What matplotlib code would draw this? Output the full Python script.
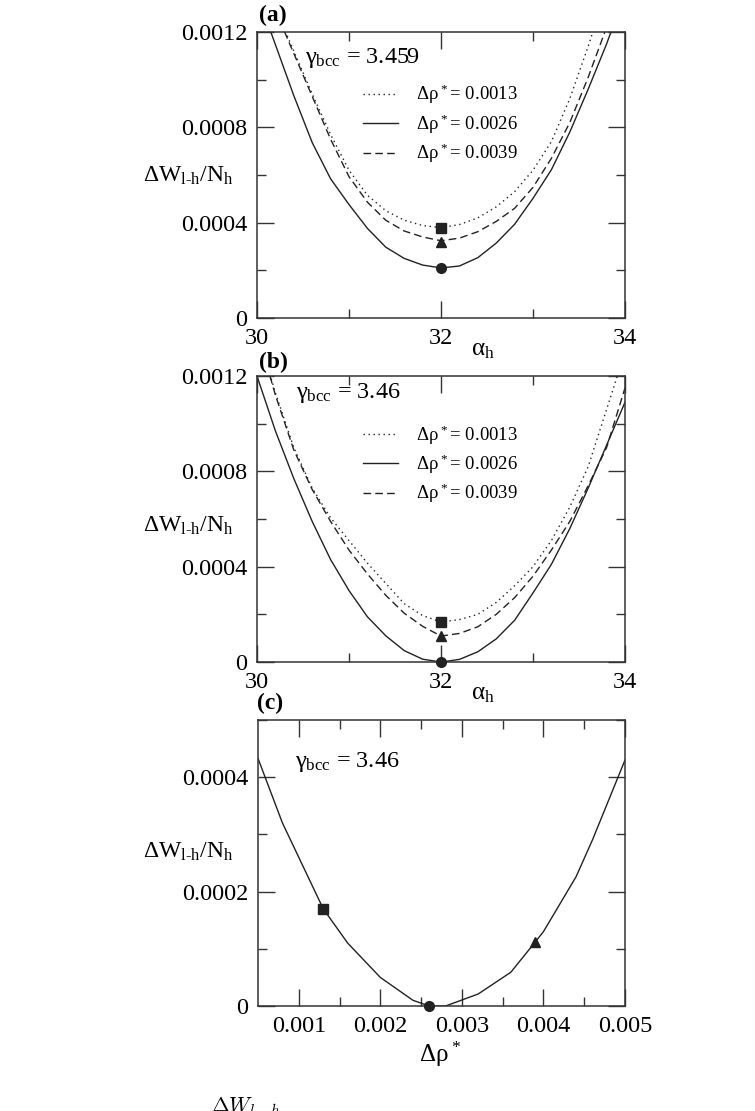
import numpy as np
import matplotlib.pyplot as plt
from matplotlib.ticker import FixedLocator

plt.rcParams['font.family'] = ['Liberation Serif', 'DejaVu Serif']

# alpha_h grid used for panels (a) and (b)
alpha = [30.0, 30.2, 30.4, 30.6, 30.8, 31.0, 31.2, 31.4, 31.6, 31.8, 32.0,
         32.2, 32.4, 32.6, 32.8, 33.0, 33.2, 33.4, 33.6, 33.8, 34.0]

# (a) gamma_bcc = 3.459
a_0013 = [0.00148, 0.00130, 0.00112, 0.00094, 0.00077, 0.00062, 0.000515, 0.00045, 0.00041, 0.000388, 0.000379,
          0.000392, 0.00042, 0.000466, 0.00053, 0.00062, 0.00074, 0.00092, 0.00114, 0.00138, 0.00162]
a_0026 = [0.00136, 0.001147, 0.000933, 0.000736, 0.000584, 0.000476, 0.000376, 0.000297, 0.00025, 0.000222, 0.00021,
          0.000218, 0.000253, 0.000314, 0.000393, 0.000502, 0.000622, 0.00078, 0.00096, 0.00115, 0.00136]
a_0039 = [0.00147, 0.00129, 0.00111, 0.00093, 0.00075, 0.000593, 0.000486, 0.00041, 0.000365, 0.00034, 0.000324,
          0.000335, 0.000362, 0.000405, 0.00046, 0.000548, 0.00067, 0.00082, 0.00101, 0.00122, 0.00141]
a_marks = [0.000378, 0.00021, 0.00032]

# (b) gamma_bcc = 3.46
b_0013 = [0.00139, 0.00113, 0.00090, 0.00073, 0.000605, 0.00051, 0.000415, 0.00033, 0.000245, 0.000195, 0.000168,
          0.000178, 0.00020, 0.00025, 0.00032, 0.00040, 0.00051, 0.00065, 0.00082, 0.00106, 0.00130]
b_0026 = [0.00120, 0.00097, 0.00077, 0.00059, 0.00043, 0.00030, 0.00019, 0.00011, 0.000048, 0.000012, 0.0,
          0.000011, 0.000043, 0.000097, 0.000175, 0.00029, 0.00041, 0.00056, 0.00073, 0.00091, 0.00109]
b_0039 = [0.00139, 0.00112, 0.00089, 0.000724, 0.00059, 0.00047, 0.00037, 0.00028, 0.000205, 0.00015, 0.000109,
          0.00012, 0.000148, 0.00020, 0.00027, 0.00036, 0.00047, 0.00059, 0.00074, 0.00090, 0.00115]
b_marks = [0.000168, 0.0, 0.000109]

# (c) minimum vs delta rho*
c_x = [0.0005, 0.0008, 0.0013, 0.0016, 0.0020, 0.0024, 0.0026, 0.0028, 0.0032,
       0.0036, 0.0039, 0.0040, 0.0044, 0.0046, 0.0050]
c_y = [0.000433, 0.00032, 0.00017, 0.00011, 0.00005, 0.00001, 0.0, 0.0, 0.000021,
       0.000059, 0.000112, 0.00013, 0.000226, 0.00029, 0.00043]
c_mx = [0.0013, 0.0026, 0.0039]
c_my = [0.00017, 0.0, 0.000112]

drho = ['0.0013', '0.0026', '0.0039']
ab_xticks = [30, 32, 34]
ab_yticks = [0, 0.0004, 0.0008, 0.0012]
ab_ylabels = ['0', '0.0004', '0.0008', '0.0012']
c_xticks = [0.001, 0.002, 0.003, 0.004, 0.005]
c_xlabels = ['0.001', '0.002', '0.003', '0.004', '0.005']
c_yticks = [0, 0.0002, 0.0004]
c_ylabels = ['0', '0.0002', '0.0004']

ink = '#222222'
styles = [(0, (1, 2.6)), '-', (0, (5.5, 3))]
markers = ['s', 'o', '^']

fig = plt.figure(figsize=(7.55, 11.11), dpi=100)
axa = fig.add_axes([0.3404, 0.7138, 0.4874, 0.2574])
axb = fig.add_axes([0.3404, 0.4041, 0.4874, 0.2574])
axc = fig.add_axes([0.3417, 0.0945, 0.4861, 0.2574])

ylab = '$\\mathregular{ΔW_{l‐h}/N_h}$'


def style(ax):
    ax.tick_params(which='both', direction='in', top=True, right=True,
                   width=1.0, color='#333333')
    ax.tick_params(which='major', length=12, pad=7, labelsize=17.5)
    ax.tick_params(which='minor', length=6.5)
    for s in ax.spines.values():
        s.set_linewidth(1.1)
        s.set_color('#333333')


for ax, curves, marks, gam, gx, gy, ly, legy in [
        (axa, [a_0013, a_0026, a_0039], a_marks, '3.459', 0.130, 0.892, 0.476, 0.822),
        (axb, [b_0013, b_0026, b_0039], b_marks, '3.46', 0.106, 0.923, 0.455, 0.835)]:
    for i in range(3):
        ax.plot(alpha, curves[i], color=ink, lw=1.0, linestyle=styles[i],
                label='$\\mathregular{Δρ^*}$= ' + drho[i])
    for i in range(3):
        ax.plot([32], [marks[i]], marker=markers[i], color=ink, ms=7,
                clip_on=False, zorder=5)
    ax.set_xlim(30, 34)
    ax.set_ylim(0, 0.0012)
    ax.xaxis.set_major_locator(FixedLocator(ab_xticks))
    ax.xaxis.set_minor_locator(FixedLocator([31, 33]))
    ax.yaxis.set_major_locator(FixedLocator(ab_yticks))
    ax.yaxis.set_minor_locator(FixedLocator([0.0002, 0.0006, 0.001]))
    ax.set_xticklabels([str(t) for t in ab_xticks])
    ax.set_yticklabels(ab_ylabels)
    style(ax)
    ax.text(gx, gy, '$\\mathregular{γ_{bcc}}$ = ' + gam, transform=ax.transAxes,
            fontsize=17.5, va='baseline', ha='left')
    ax.text(-0.31, ly, ylab, transform=ax.transAxes, fontsize=17,
            va='baseline', ha='left')
    ax.text(0.614, -0.112, '$\\mathregular{α_h}$', transform=ax.transAxes,
            fontsize=18, va='center', ha='center')
    ax.legend(loc='upper left', bbox_to_anchor=(0.287, legy), frameon=False,
              fontsize=13.5, handlelength=1.87, handletextpad=0.96,
              labelspacing=0.32, borderpad=0, borderaxespad=0)

axc.plot(c_x, c_y, color=ink, lw=1.0)
for i in range(3):
    axc.plot([c_mx[i]], [c_my[i]], marker=markers[i], color=ink, ms=7,
             clip_on=False, zorder=5)
axc.set_xlim(0.0005, 0.005)
axc.set_ylim(0, 0.0005)
axc.xaxis.set_major_locator(FixedLocator(c_xticks))
axc.xaxis.set_minor_locator(FixedLocator([0.0015, 0.0025, 0.0035, 0.0045]))
axc.yaxis.set_major_locator(FixedLocator(c_yticks))
axc.yaxis.set_minor_locator(FixedLocator([0.0001, 0.0003, 0.0005]))
axc.set_xticklabels(c_xlabels)
axc.set_yticklabels(c_ylabels)
style(axc)
axc.text(0.101, 0.836, '$\\mathregular{γ_{bcc}}$ = 3.46', transform=axc.transAxes,
         fontsize=17.5, va='baseline', ha='left')
axc.text(-0.313, 0.517, ylab, transform=axc.transAxes, fontsize=17,
         va='baseline', ha='left')
axc.text(0.497, -0.17, '$\\mathregular{Δρ^*}$', transform=axc.transAxes,
         fontsize=18, va='center', ha='center')

fig.text(0.362, 1 - 15 / 1111, '(a)', fontsize=17, fontweight='bold',
         ha='center', va='center')
fig.text(0.362, 1 - 362 / 1111, '(b)', fontsize=17, fontweight='bold',
         ha='center', va='center')
fig.text(0.358, 1 - 703 / 1111, '(c)', fontsize=17, fontweight='bold',
         ha='center', va='center')

# caption fragment cut by the bottom edge, as in the source page
fig.text(0.28, 1 - 1095 / 1111, r'$\Delta W_{l-h}$', fontsize=15.5,
         math_fontfamily='cm', ha='left', va='top')

fig.savefig('out.png', dpi=100)
